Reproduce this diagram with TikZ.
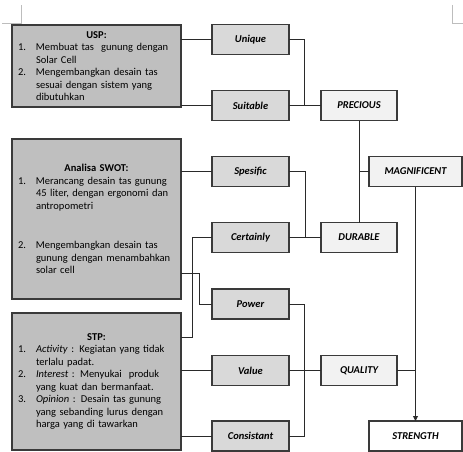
\documentclass[tikz,border=0pt]{standalone}
\usepackage{fontspec}
\setmainfont{Carlito}
\usetikzlibrary{arrows.meta}
\definecolor{leftfill}{HTML}{BFBFBF}
\definecolor{midfill}{HTML}{D9D9D9}
\definecolor{rightfill}{HTML}{F2F2F2}
\definecolor{edge}{HTML}{3A3A3A}
\definecolor{wire}{HTML}{2A2A2A}
\definecolor{mark}{HTML}{BDBDBD}
\newcommand{\itm}[2]{\par\hangindent=18pt\hangafter=1\noindent\makebox[18pt][l]{#1}#2\par}
\tikzset{
  box/.style={draw=edge, line width=1.2pt, rectangle, inner sep=0pt, outer sep=0pt},
  leftbox/.style={box, fill=leftfill, minimum width=169pt, text width=157pt,
    font=\fontsize{10.5}{12.5}\selectfont},
  midbox/.style={box, fill=midfill, minimum width=77pt, minimum height=30pt,
    font=\fontsize{10.5}{12}\selectfont\bfseries\itshape},
  rightbox/.style={box, fill=rightfill, minimum width=76pt, minimum height=30pt,
    font=\fontsize{10.5}{12}\selectfont\bfseries\itshape},
  endbox/.style={box, fill=white, minimum width=93pt, minimum height=30pt,
    font=\fontsize{10.5}{12}\selectfont\bfseries\itshape},
  wireline/.style={draw=wire, line width=0.9pt},
  cropmark/.style={draw=mark, line width=0.8pt}
}
\begin{document}
\begin{tikzpicture}[x=1pt,y=-1pt]
\useasboundingbox (0,0) rectangle (463,452);
% crop marks
\draw[cropmark] (2,23) -- (21,23) -- (21,5);
\draw[cropmark] (452,5) -- (452,23) -- (463,23);

% left boxes
\node[leftbox, minimum height=82pt] (usp) at (96.5,66) {\raggedright
  {\centering\bfseries USP:\par}
  \itm{1.}{Membuat tas \ gunung dengan\newline Solar Cell}
  \itm{2.}{Mengembangkan desain tas\newline sesuai dengan sistem yang\newline dibutuhkan}};
\node[leftbox, minimum height=160pt] (swot) at (96.5,219) {\raggedright
  {\centering\bfseries Analisa SWOT:\par}
  \itm{1.}{Merancang desain tas gunung\newline 45 liter, dengan ergonomi dan\newline antropometri}
  \vspace{27pt}
  \itm{2.}{Mengembangkan desain tas\newline gunung dengan menambahkan\newline solar cell}};
\node[leftbox, minimum height=137pt] (stp) at (96.5,381.5) {\raggedright
  {\centering\bfseries STP:\par}
  \itm{1.}{\textit{Activity} : Kegiatan yang tidak\newline terlalu padat.}
  \itm{2.}{\textit{Interest} : Menyukai \ produk\newline yang kuat dan bermanfaat.}
  \itm{3.}{\textit{Opinion} : Desain tas gunung\newline yang sebanding lurus dengan\newline harga yang di tawarkan}};

% middle boxes
\node[midbox] (unique)    at (250.5,39.5)  {Unique};
\node[midbox] (suitable)  at (250.5,105.5) {Suitable};
\node[midbox] (spesific)  at (250.5,171.5) {Spesific};
\node[midbox] (certainly) at (250.5,237.5) {Certainly};
\node[midbox] (power)     at (250.5,304)   {Power};
\node[midbox] (value)     at (250.5,370.5) {Value};
\node[midbox] (consist)   at (250.5,436)   {Consistant};

% right boxes
\node[rightbox] (precious) at (359,105.5) {PRECIOUS};
\node[rightbox] (durable)  at (359,237.5) {DURABLE};
\node[rightbox] (quality)  at (359,370.5) {QUALITY};
\node[rightbox, minimum width=93pt] (magnif) at (415.5,171.5) {MAGNIFICENT};
\node[endbox] (strength) at (415.5,436) {STRENGTH};

% junction coordinates
\coordinate (j1) at (304,105.5);
\coordinate (j2) at (305,237.5);
\coordinate (j3) at (304,370.5);
\coordinate (j4) at (359,171.5);
\coordinate (j5) at (415.5,370.5);
\coordinate (s1) at (181,273);
\coordinate (s2) at (199,304);
\coordinate (t1) at (181,337);
\coordinate (t2) at (192,237.5);

% left to middle
\draw[wireline] (usp.east |- unique.west) -- (unique.west);
\draw[wireline] (usp.east |- suitable.west) -- (suitable.west);
\draw[wireline] (swot.east |- spesific.west) -- (spesific.west);
\draw[wireline] (s1) -| (s2) -- (power.west);
\draw[wireline] (t1) -| (t2) -- (certainly.west);
\draw[wireline] (stp.east |- value.west) -- (value.west);
\draw[wireline] (stp.east |- consist.west) -- (consist.west);

% middle to right
\draw[wireline] (unique.east) -| (j1);
\draw[wireline] (suitable.east) -- (precious.west);
\draw[wireline] (spesific.east) -| (j2);
\draw[wireline] (certainly.east) -- (durable.west);
\draw[wireline] (power.east) -| (j3);
\draw[wireline] (consist.east) -| (j3);
\draw[wireline] (value.east) -- (quality.west);

% right side
\draw[wireline] (precious.south) -- (durable.north);
\draw[wireline] (magnif.west) -- (j4);
\draw[wireline] (quality.east) -- (j5);
\draw[wireline, -{Triangle[width=5pt,length=5pt]}] (magnif.south) -- (strength.north);
\end{tikzpicture}
\end{document}
